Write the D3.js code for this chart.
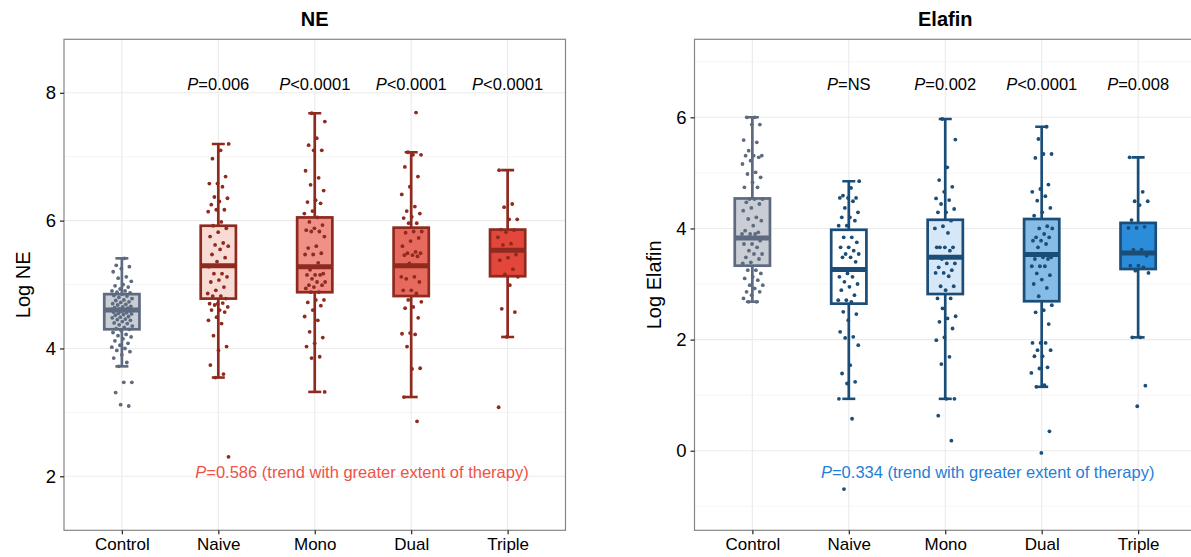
<!DOCTYPE html>
<html><head><meta charset="utf-8">
<script src="https://cdn.jsdelivr.net/npm/d3@7/dist/d3.min.js"></script>
<style>
body{margin:0;background:#fff}
text{font-family:"Liberation Sans",Arial,Helvetica,sans-serif}
</style>
</head><body>
<svg id="chart" width="1191" height="557"></svg>
<script>
// ---------------- DATA ----------------
const categories = ["Control", "Naive", "Mono", "Dual", "Triple"];

// NE panel
const neTicks = [2, 4, 6, 8];
const neQ1 = [4.30, 4.78, 4.88, 4.82, 5.13];
const neMedian = [4.60, 5.295, 5.28, 5.295, 5.535];
const neQ3 = [4.85, 5.92, 6.05, 5.89, 5.86];
const neWhiskerLow = [3.72, 3.545, 3.32, 3.24, 4.18];
const neWhiskerHigh = [5.41, 7.20, 7.68, 7.07, 6.79];
const nePLabels = ["", "=0.006", "<0.0001", "<0.0001", "<0.0001"];
const neTrend = "=0.586 (trend with greater extent of therapy)";
const nePoints = [
  [5.41,5.30,5.28,5.25,5.20,5.12,5.10,5.05,5.00,4.98,4.96,4.93,4.90,4.90,4.88,4.87,
   4.85,4.83,4.82,4.80,4.78,4.76,4.75,4.73,4.72,4.70,4.69,4.68,4.66,4.65,4.64,4.63,4.62,4.61,4.60,4.60,
   4.59,4.58,4.57,4.56,4.55,4.54,4.53,4.52,4.50,4.49,4.48,4.46,4.45,4.44,4.42,4.40,4.39,4.37,4.35,4.33,4.31,4.30,
   4.28,4.25,4.22,4.20,4.18,4.15,4.12,4.08,4.05,4.02,4.00,3.97,3.95,3.90,3.85,3.78,3.72,
   3.47,3.47,3.31,3.10,3.12],
  [7.20,7.10,6.97,6.69,6.58,6.58,6.53,6.37,6.35,6.30,6.25,6.17,6.17,6.14,5.98,5.92,5.88,5.82,5.75,
   5.65,5.62,5.60,5.55,5.47,5.42,5.36,5.28,5.17,5.17,5.12,5.07,5.04,4.96,4.91,4.86,4.82,4.82,4.78,
   4.70,4.70,4.71,4.68,4.65,4.60,4.60,4.57,4.49,4.44,4.39,4.20,4.03,3.97,3.74,3.60,3.545,2.305],
  [7.68,7.55,7.29,7.18,7.10,7.10,6.78,6.67,6.56,6.47,6.32,6.29,6.27,6.15,6.11,6.05,5.98,5.93,5.88,
   5.85,5.83,5.83,5.75,5.60,5.57,5.49,5.47,5.47,5.34,5.23,5.17,5.15,5.15,5.15,5.09,5.04,5.04,4.99,4.99,
   4.96,4.94,4.88,4.88,4.76,4.76,4.72,4.67,4.60,4.50,4.44,4.26,4.17,4.08,4.03,3.87,3.85,3.32],
  [7.69,7.07,7.03,7.03,6.84,6.69,6.53,6.41,6.22,6.15,6.11,6.06,6.04,5.96,5.96,5.83,5.83,5.81,5.73,
   5.68,5.60,5.51,5.49,5.49,5.46,5.46,5.44,5.33,5.12,5.12,5.09,5.04,4.91,4.91,4.86,4.76,4.73,4.65,4.63,
   4.48,4.24,4.23,4.22,4.03,3.69,3.68,3.24,2.86],
  [6.79,6.26,6.21,6.02,6.02,5.86,5.85,5.82,5.74,5.64,5.62,5.47,5.42,5.38,5.24,5.16,5.12,4.99,4.62,4.57,4.18,3.08]
];

// Elafin panel
const elafinTicks = [0, 2, 4, 6];
const elafinQ1 = [3.33, 2.647, 2.82, 2.69, 3.27];
const elafinMedian = [3.83, 3.26, 3.48, 3.53, 3.56];
const elafinQ3 = [4.54, 3.976, 4.156, 4.17, 4.10];
const elafinWhiskerLow = [2.68, 0.934, 0.934, 1.15, 2.04];
const elafinWhiskerHigh = [6.00, 4.85, 5.97, 5.83, 5.28];
const elafinPLabels = ["", "=NS", "=0.002", "<0.0001", "=0.008"];
const elafinTrend = "=0.334 (trend with greater extent of therapy)";
const elafinPoints = [
  [6.00,6.00,5.87,5.87,5.59,5.55,5.40,5.31,5.31,5.31,5.28,5.22,5.16,5.01,4.98,4.92,4.83,4.74,4.74,
   4.53,4.53,4.53,4.47,4.44,4.37,4.32,4.20,4.17,4.14,4.05,3.96,3.93,3.90,3.90,3.90,3.84,3.78,3.72,3.72,
   3.66,3.60,3.54,3.54,3.48,3.45,3.39,3.37,3.25,3.25,3.19,3.13,3.10,3.07,2.98,2.98,2.92,2.86,2.86,2.80,
   2.74,2.68,2.68],
  [4.85,4.73,4.59,4.55,4.55,4.55,4.49,4.37,4.29,4.20,4.20,4.14,4.05,4.05,3.84,3.84,3.75,3.66,3.66,
   3.60,3.54,3.54,3.48,3.48,3.40,3.19,3.13,3.13,3.04,3.00,2.95,2.89,2.80,2.71,2.71,2.68,2.50,2.46,
   2.35,2.14,2.05,2.03,1.90,1.54,1.39,1.24,1.21,0.934,0.575,-0.69],
  [5.97,5.60,5.10,4.87,4.75,4.66,4.54,4.51,4.44,4.35,4.29,4.29,4.14,4.04,4.00,3.92,3.66,3.66,3.66,3.66,
   3.60,3.45,3.37,3.37,3.30,3.25,3.20,3.20,3.14,2.96,2.96,2.89,2.74,2.74,2.56,2.42,2.38,2.32,2.20,
   2.04,1.99,1.69,1.56,0.934,0.934,0.63,0.18],
  [5.83,5.61,5.34,5.34,5.27,4.79,4.71,4.66,4.58,4.50,4.37,4.29,4.23,4.04,4.00,4.00,3.90,3.84,3.84,
   3.78,3.78,3.72,3.66,3.48,3.48,3.45,3.45,3.32,3.32,3.32,3.19,3.16,3.08,3.00,2.93,2.78,2.62,2.53,
   2.49,2.28,1.94,1.94,1.94,1.81,1.81,1.70,1.70,1.50,1.48,1.40,1.18,1.15,0.35,-0.04],
  [5.28,4.66,4.49,4.49,4.42,4.15,4.03,4.01,4.01,3.62,3.62,3.51,3.33,3.33,3.30,3.24,3.20,2.04,2.04,1.17,0.80]
];

// ---------------- STYLE / LAYOUT ----------------
const svg = d3.select("#chart");
svg.append("rect").attr("width", 1191).attr("height", 557).attr("fill", "#fff");

const panels = [
  {
    title: "NE", yLabel: "Log NE",
    left: 64, right: 565.5, yDomain: [1.155, 8.837], ticks: neTicks,
    q1: neQ1, med: neMedian, q3: neQ3, lo: neWhiskerLow, hi: neWhiskerHigh,
    points: nePoints, pLabels: nePLabels, pLabelY: 8.05,
    trend: neTrend, trendY: 1.97, trendPos: 0.49, trendColor: "#ef5247",
    stroke: ["#5d6a80", "#8f2a1f", "#8f2a1f", "#8f2a1f", "#8f2a1f"],
    fill: ["#c9cdd4", "#f9dbd6", "#ef9187", "#e66a5e", "#e3463a"],
    yTitleX: 30
  },
  {
    title: "Elafin", yLabel: "Log Elafin",
    left: 694.5, right: 1196, yDomain: [-1.432, 7.404], ticks: elafinTicks,
    q1: elafinQ1, med: elafinMedian, q3: elafinQ3, lo: elafinWhiskerLow, hi: elafinWhiskerHigh,
    points: elafinPoints, pLabels: elafinPLabels, pLabelY: 6.5,
    trend: elafinTrend, trendY: -0.49, trendPos: 0.44, trendColor: "#1f80d5",
    stroke: ["#5d6a80", "#1a4d77", "#1a4d77", "#1a4d77", "#1a4d77"],
    fill: ["#c9cdd4", "#ffffff", "#d6e7f7", "#86bce8", "#2b8cd9"],
    yTitleX: 661
  }
];

const TOP = 39.3, BOTTOM = 530.3;

panels.forEach(p => {
  const g = svg.append("g");
  const x = d3.scalePoint().domain(categories).range([p.left, p.right]).padding(0.6);
  const y = d3.scaleLinear().domain(p.yDomain).range([BOTTOM, TOP]);
  const step = x.step();

  const clipId = "clip-" + p.title;
  svg.append("clipPath").attr("id", clipId).append("rect")
    .attr("x", p.left).attr("y", TOP).attr("width", p.right - p.left).attr("height", BOTTOM - TOP);
  const inner = g.append("g").attr("clip-path", `url(#${clipId})`);

  // minor gridlines
  const minor = [];
  const d = p.ticks[1] - p.ticks[0];
  for (let i = 0; i < p.ticks.length + 1; i++) minor.push(p.ticks[0] - d / 2 + i * d);
  inner.selectAll(".minor").data(minor.filter(v => v > p.yDomain[0] && v < p.yDomain[1]))
    .enter().append("line")
    .attr("x1", p.left).attr("x2", p.right)
    .attr("y1", v => y(v)).attr("y2", v => y(v))
    .attr("stroke", "#f2f2f2").attr("stroke-width", 0.8);
  // major gridlines
  inner.selectAll(".major").data(p.ticks).enter().append("line")
    .attr("x1", p.left).attr("x2", p.right)
    .attr("y1", v => y(v)).attr("y2", v => y(v))
    .attr("stroke", "#ebebeb").attr("stroke-width", 1.1);
  inner.selectAll(".vmajor").data(categories).enter().append("line")
    .attr("x1", c => x(c)).attr("x2", c => x(c))
    .attr("y1", TOP).attr("y2", BOTTOM)
    .attr("stroke", "#ebebeb").attr("stroke-width", 1.1);

  const boxW = step * 0.365;
  const capW = 13;

  categories.forEach((c, i) => {
    const cx = x(c);
    const col = p.stroke[i];
    inner.append("line").attr("x1", cx).attr("x2", cx)
      .attr("y1", y(p.lo[i])).attr("y2", y(p.hi[i]))
      .attr("stroke", col).attr("stroke-width", 2.7);
    [p.lo[i], p.hi[i]].forEach(v => {
      inner.append("line").attr("x1", cx - capW / 2).attr("x2", cx + capW / 2)
        .attr("y1", y(v)).attr("y2", y(v))
        .attr("stroke", col).attr("stroke-width", 2.6);
    });
    inner.append("rect")
      .attr("x", cx - boxW / 2).attr("width", boxW)
      .attr("y", y(p.q3[i])).attr("height", y(p.q1[i]) - y(p.q3[i]))
      .attr("fill", p.fill[i]).attr("stroke", col).attr("stroke-width", 2.7);
    inner.append("line")
      .attr("x1", cx - boxW / 2).attr("x2", cx + boxW / 2)
      .attr("y1", y(p.med[i])).attr("y2", y(p.med[i]))
      .attr("stroke", col).attr("stroke-width", 5);
    const jw = step * 0.11;
    inner.selectAll(null).data(p.points[i]).enter().append("circle")
      .attr("cx", (v, k) => cx + ((((k + 1) * 0.6180339887 + i * 0.37) % 1) - 0.5) * 2 * jw)
      .attr("cy", v => y(v))
      .attr("r", 1.9)
      .attr("fill", col);
    if (p.pLabels[i]) {
      const t = inner.append("text").attr("x", cx).attr("y", y(p.pLabelY))
        .attr("text-anchor", "middle").attr("font-size", 16.5).attr("fill", "#000");
      t.append("tspan").attr("font-style", "italic").text("P");
      t.append("tspan").text(p.pLabels[i]);
    }
  });

  const tt = inner.append("text")
    .attr("x", x("Mono") + p.trendPos * step).attr("y", y(p.trendY))
    .attr("text-anchor", "middle").attr("font-size", 16.5).attr("fill", p.trendColor);
  tt.append("tspan").attr("font-style", "italic").text("P");
  tt.append("tspan").text(p.trend);

  g.append("rect").attr("x", p.left).attr("y", TOP)
    .attr("width", p.right - p.left).attr("height", BOTTOM - TOP)
    .attr("fill", "none").attr("stroke", "#858585").attr("stroke-width", 1.2);

  const yAxis = g.append("g").attr("transform", `translate(${p.left},0)`)
    .call(d3.axisLeft(y).tickValues(p.ticks).tickSize(4).tickPadding(4).tickFormat(d3.format("d")));
  yAxis.select(".domain").remove();
  yAxis.selectAll(".tick line").attr("stroke", "#222").attr("stroke-width", 1.2);
  yAxis.selectAll(".tick text").attr("font-size", 18.5).attr("fill", "#000")
    .attr("font-family", "'Liberation Sans',Arial,sans-serif");

  const xAxis = g.append("g").attr("transform", `translate(0,${BOTTOM})`)
    .call(d3.axisBottom(x).tickSize(4).tickPadding(4));
  xAxis.select(".domain").remove();
  xAxis.selectAll(".tick line").attr("stroke", "#222").attr("stroke-width", 1.2);
  xAxis.selectAll(".tick text").attr("font-size", 17).attr("fill", "#000")
    .attr("font-family", "'Liberation Sans',Arial,sans-serif");

  g.append("text").attr("x", (p.left + p.right) / 2).attr("y", 26)
    .attr("text-anchor", "middle").attr("font-size", 20).attr("font-weight", "bold").text(p.title);

  g.append("text").attr("transform", `translate(${p.yTitleX},${(TOP + BOTTOM) / 2}) rotate(-90)`)
    .attr("text-anchor", "middle").attr("font-size", 20).text(p.yLabel);
});
</script>
</body></html>
